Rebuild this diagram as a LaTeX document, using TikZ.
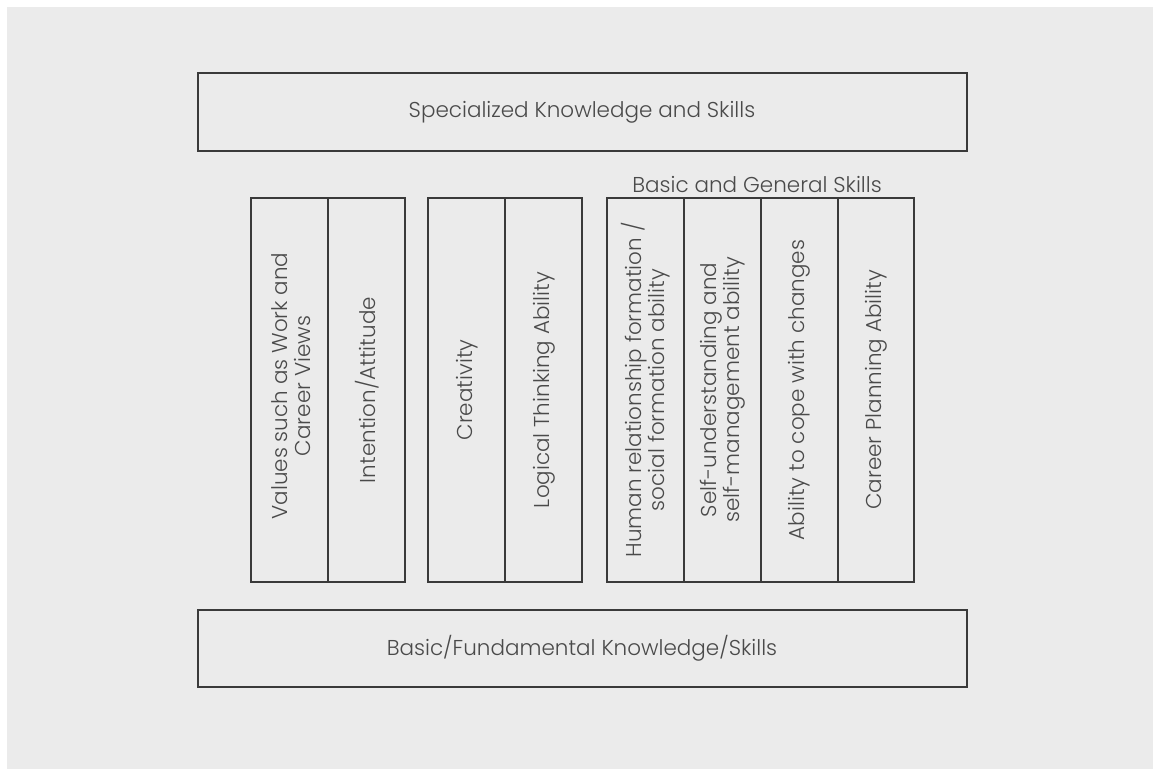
\documentclass[tikz,border=0pt]{standalone}
\usepackage{fontspec}
\setmainfont{Poppins}[UprightFont={* Light}]
\definecolor{bg}{HTML}{EBEBEB}
\definecolor{ln}{HTML}{3A3A3A}
\definecolor{tx}{HTML}{4A4A4A}
\begin{document}
\begin{tikzpicture}[x=1pt,y=-1pt,
  box/.style={draw=ln,line width=1.4pt},
  lbl/.style={text=tx,font=\fontsize{21.5}{23}\selectfont,align=center,inner sep=0pt},
  vlbl/.style={lbl,rotate=90}]
\useasboundingbox (0,0) rectangle (1153,769);
\fill[white] (0,0) rectangle (1153,769);
\fill[bg] (7,7) rectangle (1153,769);
% top and bottom bars
\draw[box] (198,73) rectangle (967,151);
\node[lbl] (spec) at (582,112) {Specialized Knowledge and Skills};
\draw[box] (198,610) rectangle (967,687);
\node[lbl] (basic) at (582,648) {Basic/Fundamental Knowledge/Skills};
% group 1
\draw[box] (251,198) rectangle (328,582);
\draw[box] (328,198) rectangle (405,582);
\node[vlbl] (values) at (291,386) {Values such as Work and\\Career Views};
\node[vlbl] (intent) at (367,390) {Intention/Attitude};
% group 2
\draw[box] (428,198) rectangle (505,582);
\draw[box] (505,198) rectangle (582,582);
\node[vlbl] (creat) at (467,390) {Creativity};
\node[vlbl] (logic) at (544,390) {Logical Thinking Ability};
% group 3
\node[lbl] (bgs) at (757,184) {Basic and General Skills};
\draw[box] (607,198) rectangle (684,582);
\draw[box] (684,198) rectangle (761,582);
\draw[box] (761,198) rectangle (838,582);
\draw[box] (838,198) rectangle (914,582);
\node[vlbl] (human) at (646,390) {Human relationship formation /\\social formation ability};
\node[vlbl] (self) at (723,390) {Self-understanding and\\self-management ability};
\node[vlbl] (cope) at (799.5,390) {Ability to cope with changes};
\node[vlbl] (career) at (876,390) {Career Planning Ability};
\end{tikzpicture}
\end{document}
